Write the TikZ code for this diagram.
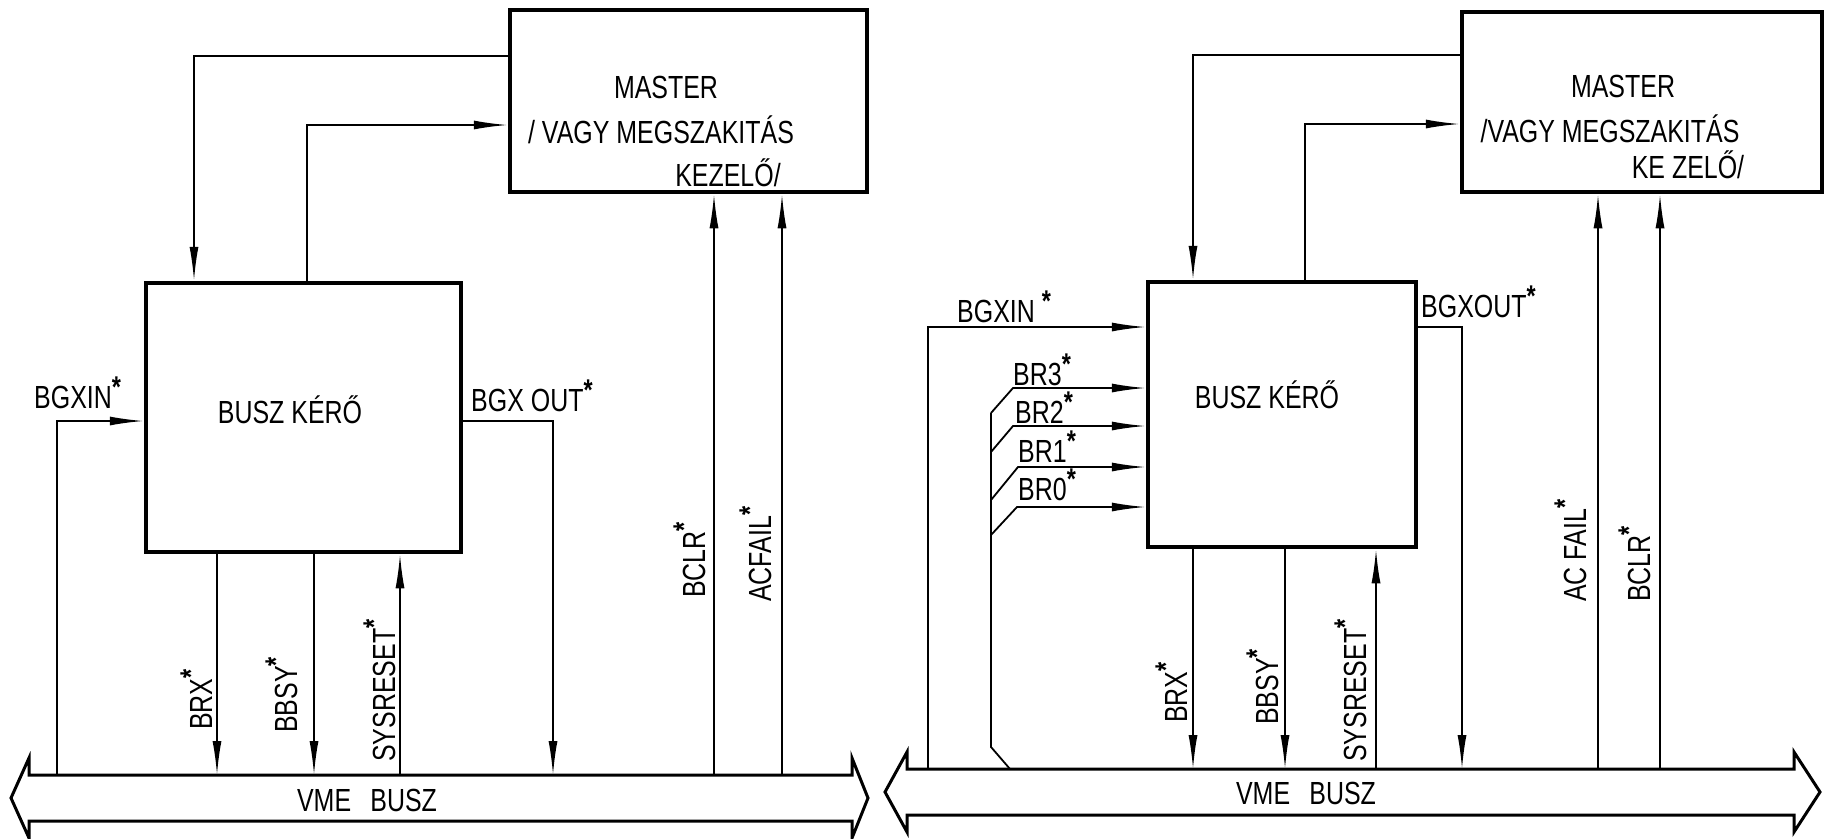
\documentclass[tikz,border=0pt]{standalone}
\usepackage{fontspec}
\setmainfont{Liberation Sans}[FakeStretch=0.78]
\usetikzlibrary{arrows.meta,calc}
\newcommand\st{\raisebox{0.34em}{\fontsize{30}{30}\selectfont\bfseries *}}
\begin{document}
\begin{tikzpicture}[x=1pt,y=-1pt,
  box/.style={draw,line width=4.5pt,inner sep=0pt},
  wire/.style={line width=1.8pt},
  arr/.style={wire,-{Latex[length=34pt,width=9pt]}},
  lab/.style={inner sep=0pt,font=\fontsize{32}{34}\selectfont},
  vlab/.style={lab,rotate=90,anchor=base west},
  hlab/.style={lab,anchor=base west},
  clab/.style={lab,anchor=base},
  bus/.style={draw,line width=3pt,line join=miter}]
\useasboundingbox (0,0) rectangle (1828,838);
% ---------------- LEFT ----------------
\node[box,minimum width=357pt,minimum height=182pt] (mL) at (688.5,101) {};
\node[box,minimum width=315pt,minimum height=269pt] (bkL) at (303.5,417.5) {};
\node[clab] (mL1) at (666,98) {MASTER};
\node[clab] (mL2) at (661,143) {/ VAGY MEGSZAKITÁS};
\node[clab] (mL3) at (728,186) {KEZELŐ/};
\node[clab] (bkLt) at (290,423) {BUSZ KÉRŐ};
\draw[bus] (11,798) -- (29,758) -- (29,775) -- (852,775) -- (852,758) -- (868,798)
  -- (852,838) -- (852,821) -- (29,821) -- (29,838) -- cycle;
\coordinate (busL) at (0,775);
\node[clab] (busLt) at (367,811) {VME\hspace{0.6em}BUSZ};
\draw[arr] (mL.west |- 0,56) -| (bkL.north -| 194,0);
\draw[arr] (bkL.north -| 307,0) |- (mL.west |- 0,125);
\draw[arr] (busL -| 57,0) |- (bkL.west |- 0,421);
\draw[arr] (bkL.east |- 0,421) -| (busL -| 553,0);
\draw[arr] (bkL.south -| 217,0) -- (busL -| 217,0);
\draw[arr] (bkL.south -| 314,0) -- (busL -| 314,0);
\draw[arr] (busL -| 400,0) -- (bkL.south -| 400,0);
\draw[arr] (busL -| 714,0) -- (mL.south -| 714,0);
\draw[arr] (busL -| 782,0) -- (mL.south -| 782,0);
\node[hlab] (lbgxinL) at (34,408) {BGXIN\st};
\node[hlab] (lbgxoutL) at (471,411) {BGX OUT\st};
\node[vlab] (lbrxL) at (212,730) {BRX\st};
\node[vlab] (lbbsyL) at (297,733) {BBSY\st};
\node[vlab] (lsysL) at (395,762) {SYSRESET\st};
\node[vlab] (lbclrL) at (705,598) {BCLR\st};
\node[vlab] (lacfL) at (771,602) {ACFAIL\st};
% ---------------- RIGHT ----------------
\node[box,minimum width=360pt,minimum height=180pt] (mR) at (1642,102) {};
\node[box,minimum width=268pt,minimum height=265pt] (bkR) at (1282,414.5) {};
\node[clab] (mR1) at (1623,97) {MASTER};
\node[clab] (mR2) at (1610,142) {/VAGY MEGSZAKITÁS};
\node[clab] (mR3) at (1688,178) {KE ZELŐ/};
\node[clab] (bkRt) at (1267,408) {BUSZ KÉRŐ};
\draw[bus] (885,792) -- (907,752) -- (907,769) -- (1794,769) -- (1794,752) -- (1820,792)
  -- (1794,832) -- (1794,815) -- (907,815) -- (907,832) -- cycle;
\coordinate (busR) at (0,769);
\node[clab] (busRt) at (1306,804) {VME\hspace{0.6em}BUSZ};
\draw[arr] (mR.west |- 0,55) -| (bkR.north -| 1193,0);
\draw[arr] (bkR.north -| 1305,0) |- (mR.west |- 0,124);
\draw[arr] (busR -| 928,0) |- (bkR.west |- 0,327);
\draw[arr] (bkR.east |- 0,327) -| (busR -| 1462,0);
\draw[wire] (busR -| 1010,0) -- (991,747) -- (991,413);
\draw[arr] (991,413) -- (1013,388) -- (bkR.west |- 0,388);
\draw[arr] (991,452) -- (1013,426) -- (bkR.west |- 0,426);
\draw[arr] (991,500) -- (1018,467) -- (bkR.west |- 0,467);
\draw[arr] (991,535) -- (1017,507) -- (bkR.west |- 0,507);
\draw[arr] (bkR.south -| 1193,0) -- (busR -| 1193,0);
\draw[arr] (bkR.south -| 1285,0) -- (busR -| 1285,0);
\draw[arr] (busR -| 1376,0) -- (bkR.south -| 1376,0);
\draw[arr] (busR -| 1598,0) -- (mR.south -| 1598,0);
\draw[arr] (busR -| 1660,0) -- (mR.south -| 1660,0);
\node[hlab] (lbgxinR) at (957,322) {BGXIN \st};
\node[hlab] (lbgxoutR) at (1421,317) {BGXOUT\st};
\node[hlab] (lbr3) at (1013,385) {BR3\st};
\node[hlab] (lbr2) at (1015,423) {BR2\st};
\node[hlab] (lbr1) at (1018,462) {BR1\st};
\node[hlab] (lbr0) at (1018,500) {BR0\st};
\node[vlab] (lbrxR) at (1187,723) {BRX\st};
\node[vlab] (lbbsyR) at (1278,725) {BBSY\st};
\node[vlab] (lsysR) at (1366,762) {SYSRESET\st};
\node[vlab] (lacfR) at (1586,602) {AC FAIL\st};
\node[vlab] (lbclrR) at (1650,602) {BCLR\st};
\end{tikzpicture}
\end{document}
